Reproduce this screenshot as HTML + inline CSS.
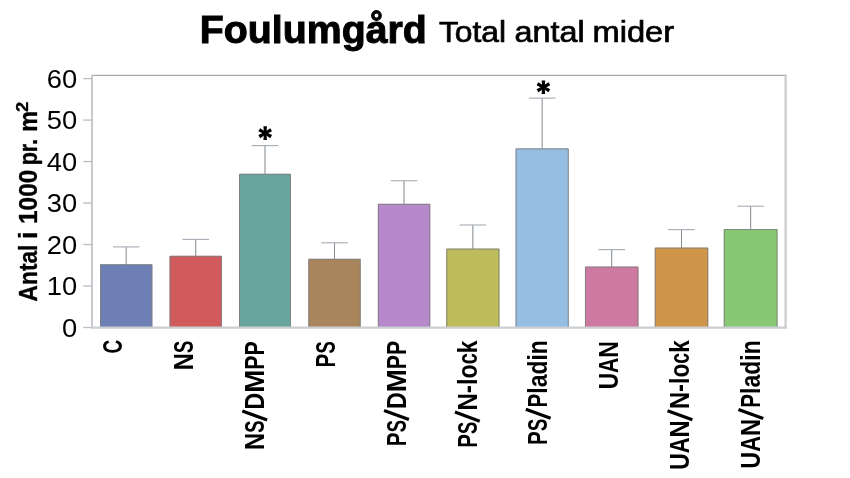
<!DOCTYPE html>
<html><head><meta charset="utf-8"><title>Foulumgård Total antal mider</title>
<style>html,body{margin:0;padding:0;background:#fff;}body{width:850px;height:478px;overflow:hidden;font-family:"Liberation Sans",sans-serif;}svg{display:block;will-change:transform;}text{font-family:"Liberation Sans",sans-serif;fill:#000;}</style>
</head><body>
<svg width="850" height="478" viewBox="0 0 850 478">
<rect x="0" y="0" width="850" height="478" fill="#ffffff"/>
<text x="199.8" y="42.8" font-size="39.4" font-weight="bold" textLength="227" lengthAdjust="spacingAndGlyphs" stroke="#000" stroke-width="1.0">Foulumgård</text>
<text transform="translate(438.88,41.8) scale(1.0779,1)" font-size="29.5" stroke="#000" stroke-width="0.7">Total</text>
<text transform="translate(514.49,41.8) scale(1.0965,1)" font-size="29.5" stroke="#000" stroke-width="0.7">antal</text>
<text transform="translate(592.51,41.8) scale(1.1073,1)" font-size="29.5" stroke="#000" stroke-width="0.7">mider</text>
<line x1="91.10" y1="75.30" x2="786.50" y2="75.30" stroke="#a9acae" stroke-width="1.15"/>
<line x1="785.6" y1="75.30" x2="785.6" y2="328.40" stroke="#c7cbcf" stroke-width="2.2"/>
<line x1="92.0" y1="75.00" x2="92.0" y2="328.40" stroke="#c3c8cc" stroke-width="1.9"/>
<line x1="83.2" y1="78.60" x2="92.0" y2="78.60" stroke="#b9bdc0" stroke-width="1.3"/>
<text transform="translate(77.2,87.75) scale(1.093,1)" font-size="25" text-anchor="end">60</text>
<line x1="83.2" y1="120.08" x2="92.0" y2="120.08" stroke="#b9bdc0" stroke-width="1.3"/>
<text transform="translate(77.2,129.23) scale(1.093,1)" font-size="25" text-anchor="end">50</text>
<line x1="83.2" y1="161.57" x2="92.0" y2="161.57" stroke="#b9bdc0" stroke-width="1.3"/>
<text transform="translate(77.2,170.72) scale(1.093,1)" font-size="25" text-anchor="end">40</text>
<line x1="83.2" y1="203.05" x2="92.0" y2="203.05" stroke="#b9bdc0" stroke-width="1.3"/>
<text transform="translate(77.2,212.20) scale(1.093,1)" font-size="25" text-anchor="end">30</text>
<line x1="83.2" y1="244.53" x2="92.0" y2="244.53" stroke="#b9bdc0" stroke-width="1.3"/>
<text transform="translate(77.2,253.68) scale(1.093,1)" font-size="25" text-anchor="end">20</text>
<line x1="83.2" y1="286.02" x2="92.0" y2="286.02" stroke="#b9bdc0" stroke-width="1.3"/>
<text transform="translate(77.2,295.17) scale(1.093,1)" font-size="25" text-anchor="end">10</text>
<line x1="83.2" y1="327.50" x2="92.0" y2="327.50" stroke="#b9bdc0" stroke-width="1.3"/>
<text transform="translate(77.2,336.65) scale(1.093,1)" font-size="25" text-anchor="end">0</text>
<text transform="translate(37.10,301.41) rotate(-90) scale(0.9927,1.1)" font-size="22.9" font-weight="bold" stroke="#000" stroke-width="0.3">Antal</text>
<text transform="translate(37.10,239.04) rotate(-90) scale(1.1500,1.1)" font-size="22.9" font-weight="bold" stroke="#000" stroke-width="0.3">i</text>
<text transform="translate(37.10,224.03) rotate(-90) scale(1.0699,1.1)" font-size="22.9" font-weight="bold" stroke="#000" stroke-width="0.3">1000</text>
<text transform="translate(37.10,165.33) rotate(-90) scale(0.9386,1.1)" font-size="22.9" font-weight="bold" stroke="#000" stroke-width="0.3">pr.</text>
<text transform="translate(37.10,131.76) rotate(-90) scale(1.0173,1.1)" font-size="22.9" font-weight="bold" stroke="#000" stroke-width="0.3">m</text>
<text transform="translate(27.50,112.08) rotate(-90) scale(1.2617,1.1)" font-size="14.5" font-weight="bold" stroke="#000" stroke-width="0.3">2</text>
<line x1="126.20" y1="246.9" x2="126.20" y2="264.8" stroke="#868c92" stroke-width="1.05"/>
<line x1="112.90" y1="246.9" x2="139.50" y2="246.9" stroke="#a9b0b7" stroke-width="1.15"/>
<rect x="100.10" y="264.35" width="52.20" height="63.15" fill="#6e7fb5"/>
<path d="M100.55 327.50 V264.80 H151.85 V327.50" fill="none" stroke="#7e7e7e" stroke-width="0.9"/>
<line x1="195.75" y1="239.4" x2="195.75" y2="256.3" stroke="#868c92" stroke-width="1.05"/>
<line x1="182.45" y1="239.4" x2="209.05" y2="239.4" stroke="#a9b0b7" stroke-width="1.15"/>
<rect x="169.60" y="255.85" width="52.30" height="71.65" fill="#d15a5c"/>
<path d="M170.05 327.50 V256.30 H221.45 V327.50" fill="none" stroke="#7e7e7e" stroke-width="0.9"/>
<line x1="265.00" y1="145.6" x2="265.00" y2="174.3" stroke="#868c92" stroke-width="1.05"/>
<line x1="251.70" y1="145.6" x2="278.30" y2="145.6" stroke="#a9b0b7" stroke-width="1.15"/>
<rect x="239.10" y="173.85" width="51.80" height="153.65" fill="#68a59f"/>
<path d="M239.55 327.50 V174.30 H290.45 V327.50" fill="none" stroke="#7e7e7e" stroke-width="0.9"/>
<line x1="334.50" y1="242.8" x2="334.50" y2="259.3" stroke="#868c92" stroke-width="1.05"/>
<line x1="321.20" y1="242.8" x2="347.80" y2="242.8" stroke="#a9b0b7" stroke-width="1.15"/>
<rect x="308.40" y="258.85" width="52.20" height="68.65" fill="#a9855c"/>
<path d="M308.85 327.50 V259.30 H360.15 V327.50" fill="none" stroke="#7e7e7e" stroke-width="0.9"/>
<line x1="404.05" y1="180.7" x2="404.05" y2="204.3" stroke="#868c92" stroke-width="1.05"/>
<line x1="390.75" y1="180.7" x2="417.35" y2="180.7" stroke="#a9b0b7" stroke-width="1.15"/>
<rect x="377.90" y="203.85" width="52.30" height="123.65" fill="#b689cc"/>
<path d="M378.35 327.50 V204.30 H429.75 V327.50" fill="none" stroke="#7e7e7e" stroke-width="0.9"/>
<line x1="472.85" y1="225.0" x2="472.85" y2="249.1" stroke="#868c92" stroke-width="1.05"/>
<line x1="459.55" y1="225.0" x2="486.15" y2="225.0" stroke="#a9b0b7" stroke-width="1.15"/>
<rect x="446.30" y="248.65" width="53.10" height="78.85" fill="#bcbc5b"/>
<path d="M446.75 327.50 V249.10 H498.95 V327.50" fill="none" stroke="#7e7e7e" stroke-width="0.9"/>
<line x1="542.15" y1="98.1" x2="542.15" y2="148.9" stroke="#868c92" stroke-width="1.05"/>
<line x1="528.85" y1="98.1" x2="555.45" y2="98.1" stroke="#a9b0b7" stroke-width="1.15"/>
<rect x="515.60" y="148.45" width="53.10" height="179.05" fill="#96bde2"/>
<path d="M516.05 327.50 V148.90 H568.25 V327.50" fill="none" stroke="#7e7e7e" stroke-width="0.9"/>
<line x1="611.70" y1="249.6" x2="611.70" y2="267.1" stroke="#868c92" stroke-width="1.05"/>
<line x1="598.40" y1="249.6" x2="625.00" y2="249.6" stroke="#a9b0b7" stroke-width="1.15"/>
<rect x="585.00" y="266.65" width="53.40" height="60.85" fill="#ce79a2"/>
<path d="M585.45 327.50 V267.10 H637.95 V327.50" fill="none" stroke="#7e7e7e" stroke-width="0.9"/>
<line x1="681.50" y1="229.6" x2="681.50" y2="248.1" stroke="#868c92" stroke-width="1.05"/>
<line x1="668.20" y1="229.6" x2="694.80" y2="229.6" stroke="#a9b0b7" stroke-width="1.15"/>
<rect x="654.80" y="247.65" width="53.40" height="79.85" fill="#cf964a"/>
<path d="M655.25 327.50 V248.10 H707.75 V327.50" fill="none" stroke="#7e7e7e" stroke-width="0.9"/>
<line x1="750.65" y1="206.2" x2="750.65" y2="229.6" stroke="#868c92" stroke-width="1.05"/>
<line x1="737.35" y1="206.2" x2="763.95" y2="206.2" stroke="#a9b0b7" stroke-width="1.15"/>
<rect x="723.80" y="229.15" width="53.70" height="98.35" fill="#86c873"/>
<path d="M724.25 327.50 V229.60 H777.05 V327.50" fill="none" stroke="#7e7e7e" stroke-width="0.9"/>
<line x1="91.05" y1="327.55" x2="786.70" y2="327.55" stroke="#cbcfd2" stroke-width="2.3"/>
<polygon points="266.50,133.20 266.95,126.35 263.45,126.35 263.90,133.20" fill="#000"/><polygon points="265.85,134.33 272.01,131.29 270.26,128.26 264.55,132.07" fill="#000"/><polygon points="264.55,134.33 270.26,138.14 272.01,135.11 265.85,132.07" fill="#000"/><polygon points="263.90,133.20 263.45,140.05 266.95,140.05 266.50,133.20" fill="#000"/><polygon points="264.55,132.07 258.39,135.11 260.14,138.14 265.85,134.33" fill="#000"/><polygon points="265.85,132.07 260.14,128.26 258.39,131.29 264.55,134.33" fill="#000"/><circle cx="265.2" cy="133.2" r="2.1" fill="#000"/>
<polygon points="544.70,87.25 545.15,80.40 541.65,80.40 542.10,87.25" fill="#000"/><polygon points="544.05,88.38 550.21,85.34 548.46,82.31 542.75,86.12" fill="#000"/><polygon points="542.75,88.38 548.46,92.19 550.21,89.16 544.05,86.12" fill="#000"/><polygon points="542.10,87.25 541.65,94.10 545.15,94.10 544.70,87.25" fill="#000"/><polygon points="542.75,86.12 536.59,89.16 538.34,92.19 544.05,88.38" fill="#000"/><polygon points="544.05,86.12 538.34,82.31 536.59,85.34 542.75,88.38" fill="#000"/><circle cx="543.4" cy="87.25" r="2.1" fill="#000"/>
<text transform="translate(122.20,353.56) rotate(-90) scale(0.6711,1.0)" font-size="28.4" font-weight="bold">C</text>
<text transform="translate(193.07,353.09) rotate(-90) scale(0.6487,1.0)" font-size="28.4" font-weight="bold">S</text>
<text transform="translate(193.07,370.24) rotate(-90) scale(0.8365,1.0)" font-size="28.4" font-weight="bold">N</text>
<text transform="translate(263.94,355.54) rotate(-90) scale(0.7463,1.0)" font-size="28.4" font-weight="bold">P</text>
<text transform="translate(263.94,369.68) rotate(-90) scale(0.7463,1.0)" font-size="28.4" font-weight="bold">P</text>
<text transform="translate(263.94,392.70) rotate(-90) scale(0.9733,1.0)" font-size="28.4" font-weight="bold">M</text>
<text transform="translate(263.94,409.39) rotate(-90) scale(0.8139,1.0)" font-size="28.4" font-weight="bold">D</text>
<line x1="267.14" y1="420.06" x2="242.34" y2="410.99" stroke="#000" stroke-width="3.2"/>
<text transform="translate(263.94,432.85) rotate(-90) scale(0.6487,1.0)" font-size="28.4" font-weight="bold">S</text>
<text transform="translate(263.94,450.00) rotate(-90) scale(0.8365,1.0)" font-size="28.4" font-weight="bold">N</text>
<text transform="translate(334.81,353.59) rotate(-90) scale(0.6487,1.0)" font-size="28.4" font-weight="bold">S</text>
<text transform="translate(334.81,367.43) rotate(-90) scale(0.7305,1.0)" font-size="28.4" font-weight="bold">P</text>
<text transform="translate(405.68,354.97) rotate(-90) scale(0.7479,1.0)" font-size="28.4" font-weight="bold">P</text>
<text transform="translate(405.68,369.14) rotate(-90) scale(0.7479,1.0)" font-size="28.4" font-weight="bold">P</text>
<text transform="translate(405.68,392.19) rotate(-90) scale(0.9745,1.0)" font-size="28.4" font-weight="bold">M</text>
<text transform="translate(405.68,408.91) rotate(-90) scale(0.8154,1.0)" font-size="28.4" font-weight="bold">D</text>
<line x1="408.88" y1="419.58" x2="384.08" y2="410.51" stroke="#000" stroke-width="3.2"/>
<text transform="translate(405.68,432.37) rotate(-90) scale(0.6487,1.0)" font-size="28.4" font-weight="bold">S</text>
<text transform="translate(405.68,446.21) rotate(-90) scale(0.7305,1.0)" font-size="28.4" font-weight="bold">P</text>
<text transform="translate(476.55,353.17) rotate(-90) scale(0.8022,1.0)" font-size="28.4" font-weight="bold">k</text>
<text transform="translate(476.55,364.23) rotate(-90) scale(0.7009,1.0)" font-size="28.4" font-weight="bold">c</text>
<text transform="translate(476.55,378.40) rotate(-90) scale(0.8163,1.0)" font-size="28.4" font-weight="bold">o</text>
<text transform="translate(476.55,384.98) rotate(-90) scale(0.8341,1.0)" font-size="28.4" font-weight="bold">l</text>
<text transform="translate(476.55,393.14) rotate(-90) scale(0.8628,1.0)" font-size="28.4" font-weight="bold">-</text>
<text transform="translate(476.55,410.50) rotate(-90) scale(0.8462,1.0)" font-size="28.4" font-weight="bold">N</text>
<line x1="479.75" y1="421.17" x2="454.95" y2="412.10" stroke="#000" stroke-width="3.2"/>
<text transform="translate(476.55,433.96) rotate(-90) scale(0.6487,1.0)" font-size="28.4" font-weight="bold">S</text>
<text transform="translate(476.55,447.79) rotate(-90) scale(0.7305,1.0)" font-size="28.4" font-weight="bold">P</text>
<text transform="translate(547.42,354.16) rotate(-90) scale(0.8048,1.0)" font-size="28.4" font-weight="bold">n</text>
<text transform="translate(547.42,360.55) rotate(-90) scale(0.8088,1.0)" font-size="28.4" font-weight="bold">i</text>
<text transform="translate(547.42,374.52) rotate(-90) scale(0.8048,1.0)" font-size="28.4" font-weight="bold">d</text>
<text transform="translate(547.42,387.36) rotate(-90) scale(0.8136,1.0)" font-size="28.4" font-weight="bold">a</text>
<text transform="translate(547.42,393.75) rotate(-90) scale(0.8088,1.0)" font-size="28.4" font-weight="bold">l</text>
<text transform="translate(547.42,407.59) rotate(-90) scale(0.7305,1.0)" font-size="28.4" font-weight="bold">P</text>
<line x1="550.62" y1="418.26" x2="525.82" y2="409.19" stroke="#000" stroke-width="3.2"/>
<text transform="translate(547.42,431.05) rotate(-90) scale(0.6487,1.0)" font-size="28.4" font-weight="bold">S</text>
<text transform="translate(547.42,444.89) rotate(-90) scale(0.7305,1.0)" font-size="28.4" font-weight="bold">P</text>
<text transform="translate(618.29,357.64) rotate(-90) scale(0.8114,1.0)" font-size="28.4" font-weight="bold">N</text>
<text transform="translate(618.29,372.91) rotate(-90) scale(0.7447,1.0)" font-size="28.4" font-weight="bold">A</text>
<text transform="translate(618.29,389.33) rotate(-90) scale(0.8012,1.0)" font-size="28.4" font-weight="bold">U</text>
<text transform="translate(689.16,352.77) rotate(-90) scale(0.7895,1.0)" font-size="28.4" font-weight="bold">k</text>
<text transform="translate(689.16,363.63) rotate(-90) scale(0.6882,1.0)" font-size="28.4" font-weight="bold">c</text>
<text transform="translate(689.16,377.60) rotate(-90) scale(0.8048,1.0)" font-size="28.4" font-weight="bold">o</text>
<text transform="translate(689.16,383.98) rotate(-90) scale(0.8088,1.0)" font-size="28.4" font-weight="bold">l</text>
<text transform="translate(689.16,391.94) rotate(-90) scale(0.8417,1.0)" font-size="28.4" font-weight="bold">-</text>
<text transform="translate(689.16,409.10) rotate(-90) scale(0.8365,1.0)" font-size="28.4" font-weight="bold">N</text>
<line x1="692.36" y1="419.77" x2="667.56" y2="410.70" stroke="#000" stroke-width="3.2"/>
<text transform="translate(689.16,437.42) rotate(-90) scale(0.8365,1.0)" font-size="28.4" font-weight="bold">N</text>
<text transform="translate(689.16,453.16) rotate(-90) scale(0.7677,1.0)" font-size="28.4" font-weight="bold">A</text>
<text transform="translate(689.16,470.10) rotate(-90) scale(0.8259,1.0)" font-size="28.4" font-weight="bold">U</text>
<text transform="translate(760.03,354.36) rotate(-90) scale(0.8048,1.0)" font-size="28.4" font-weight="bold">n</text>
<text transform="translate(760.03,360.75) rotate(-90) scale(0.8088,1.0)" font-size="28.4" font-weight="bold">i</text>
<text transform="translate(760.03,374.72) rotate(-90) scale(0.8048,1.0)" font-size="28.4" font-weight="bold">d</text>
<text transform="translate(760.03,387.56) rotate(-90) scale(0.8136,1.0)" font-size="28.4" font-weight="bold">a</text>
<text transform="translate(760.03,393.95) rotate(-90) scale(0.8088,1.0)" font-size="28.4" font-weight="bold">l</text>
<text transform="translate(760.03,407.79) rotate(-90) scale(0.7305,1.0)" font-size="28.4" font-weight="bold">P</text>
<line x1="763.23" y1="418.46" x2="738.43" y2="409.39" stroke="#000" stroke-width="3.2"/>
<text transform="translate(760.03,436.11) rotate(-90) scale(0.8365,1.0)" font-size="28.4" font-weight="bold">N</text>
<text transform="translate(760.03,451.85) rotate(-90) scale(0.7677,1.0)" font-size="28.4" font-weight="bold">A</text>
<text transform="translate(760.03,468.79) rotate(-90) scale(0.8259,1.0)" font-size="28.4" font-weight="bold">U</text>
</svg>
</body></html>
